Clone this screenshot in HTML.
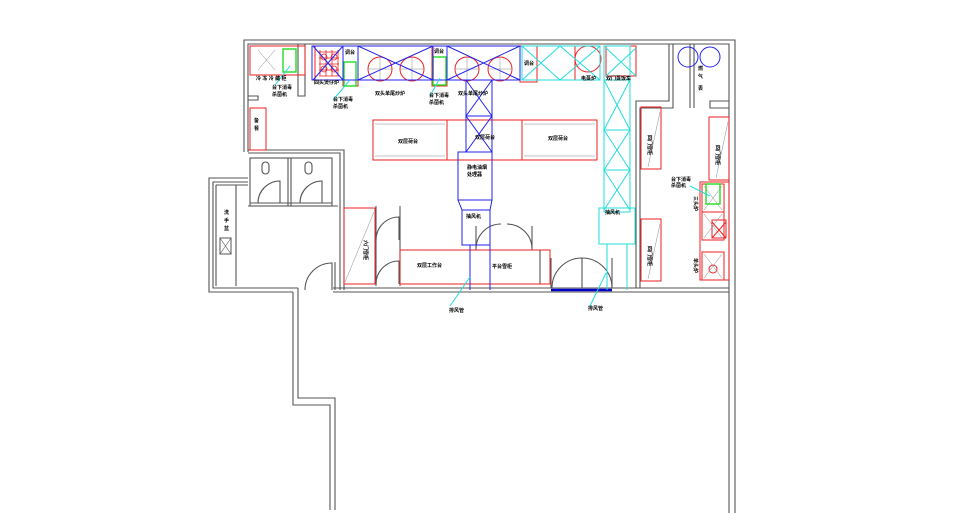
<!DOCTYPE html>
<html><head><meta charset="utf-8"><style>
html,body{margin:0;padding:0;background:#fff;width:960px;height:531px;overflow:hidden}
svg text{font-family:"Liberation Sans","Noto Sans CJK SC",sans-serif;font-weight:bold;font-size:5px;fill:#000}
</style></head><body>
<svg width="960" height="531" viewBox="0 0 960 531" xmlns="http://www.w3.org/2000/svg">
<g fill="none" stroke="#555" stroke-width="1.1">
<polyline points="244,152 244,40 735,40 735,513"/>
<polyline points="248,152 248,44 729,44 729,513"/>
<polyline points="248,150 344,150 344,290"/>
<polyline points="248,153 340,153 340,290"/>
<polyline points="248,178 209,178 209,292 293,292"/>
<polyline points="248,182 213,182 213,288 298,288"/>
<line x1="216" y1="185" x2="216" y2="286"/>
<line x1="236" y1="185" x2="236" y2="286"/>
<line x1="216" y1="185" x2="248" y2="185"/>
<rect x="250" y="158" width="82" height="48"/>
<line x1="250" y1="203" x2="332" y2="203"/>
<line x1="288" y1="158" x2="288" y2="206"/><line x1="291" y1="158" x2="291" y2="206"/>
<line x1="248" y1="206" x2="338" y2="206"/>
<path d="M258,203 A22,22 0 0 1 280,181 L280,203"/>
<path d="M300,203 A22,22 0 0 1 322,181 L322,203"/>
<rect x="262" y="162" width="7" height="12" rx="3.5"/>
<rect x="305" y="162" width="7" height="12" rx="3.5"/>
<path d="M305,290 A27,27 0 0 1 332,263 L332,290"/>
<line x1="335" y1="262" x2="335" y2="290"/>
<line x1="333" y1="288" x2="729" y2="288"/>
<line x1="333" y1="292" x2="729" y2="292"/>
<polyline points="293,292 293,405 330,405 330,510"/>
<polyline points="298,288 298,398 335,398 335,510"/>
<polyline points="669,44 669,101 636,101 636,288"/>
<polyline points="673,44 673,108 640,108 640,288"/>
<polyline points="729,101 710,101 710,108 729,108"/>
<line x1="694" y1="44" x2="694" y2="108"/>
<line x1="690" y1="44" x2="690" y2="108"/>
<polyline points="305,44 305,96 298,96 298,44"/>
<polyline points="248,96 258,96 258,100 248,100"/>
<path d="M376,240 A23,23 0 0 1 399,217 L399,240"/><path d="M376,284 A23,23 0 0 1 399,261 L399,284"/>
<line x1="376" y1="206" x2="376" y2="286"/><line x1="400" y1="206" x2="400" y2="286"/>
<path d="M476,248 A25,25 0 0 1 501,224 M532,248 A25,25 0 0 0 507,224"/>
<line x1="476" y1="226" x2="476" y2="250"/><line x1="532" y1="226" x2="532" y2="250"/>
<line x1="540" y1="250" x2="540" y2="284"/>
<path d="M552,288 A30,30 0 0 1 582,258 L582,288 M612,288 A30,30 0 0 0 582,258"/>
<line x1="551" y1="258" x2="551" y2="288"/><line x1="612" y1="258" x2="612" y2="288"/>
</g>
<line x1="551" y1="290" x2="612" y2="290" stroke="#00c" stroke-width="2.5"/>
<rect x="220" y="238" width="11" height="16" fill="none" stroke="#555"/>
<path d="M220,238 L231,254 M231,238 L220,254" stroke="#555" stroke-width="0.6"/>

<g fill="none" stroke="#e22" stroke-width="1">
<rect x="250" y="46" width="55" height="29"/>
<rect x="250" y="108" width="16" height="42"/>
<rect x="315" y="46" width="28" height="34"/>
<rect x="343" y="46" width="15" height="40"/>
<rect x="358" y="46" width="74" height="34"/>
<rect x="432" y="46" width="15" height="40"/>
<rect x="447" y="46" width="73" height="34"/>
<rect x="520" y="46" width="17" height="36"/>
<rect x="537" y="46" width="38" height="34"/>
<rect x="606" y="46" width="30" height="30"/>
<circle cx="380" cy="69" r="12"/><circle cx="412" cy="69" r="12"/>
<circle cx="467" cy="69" r="12"/><circle cx="500" cy="69" r="12"/>
<circle cx="588" cy="59" r="13"/>
<rect x="373" y="120" width="74" height="40"/><rect x="447" y="120" width="75" height="40"/><rect x="522" y="120" width="75" height="40"/>
<rect x="641" y="107" width="20" height="62"/>
<rect x="641" y="219" width="20" height="62"/>
<rect x="709" y="117" width="20" height="63"/>
<rect x="700" y="182" width="29" height="98"/>
<rect x="702" y="184" width="22" height="28"/><rect x="702" y="212" width="22" height="28"/><rect x="702" y="252" width="22" height="28"/>
<rect x="712" y="220" width="14" height="18"/>
<circle cx="713" cy="269" r="4"/>
<rect x="344" y="208" width="31" height="76"/>
<rect x="400" y="250" width="70" height="34"/>
<rect x="470" y="250" width="80" height="34"/>
</g>
<g stroke="#e22" stroke-width="0.8" fill="none">
<path d="M319,52 h20 M319,58 h20 M319,64 h20 M319,70 h20 M319,76 h20 M320,50 v26 M326,50 v26 M332,50 v26 M338,50 v26"/>
<circle cx="324" cy="57" r="3"/><circle cx="334" cy="57" r="3"/><circle cx="324" cy="69" r="3"/><circle cx="334" cy="69" r="3"/>
</g>
<g stroke="#888" stroke-width="0.5" fill="none">
<line x1="648" y1="167" x2="660" y2="112"/><line x1="648" y1="279" x2="660" y2="224"/>
<line x1="716" y1="178" x2="728" y2="122"/><line x1="345" y1="282" x2="374" y2="212"/>
<path d="M258,50 L275,70 M275,50 L258,70"/>
<path d="M704,186 L722,210 M722,186 L704,210 M704,214 L722,238 M722,214 L704,238 M704,254 L722,278 M722,254 L704,278"/>
<path d="M380,57 v24 M368,69 h24 M412,57 v24 M400,69 h24 M467,57 v24 M455,69 h24 M500,57 v24 M488,69 h24"/>
<line x1="375" y1="124" x2="445" y2="124"/><line x1="375" y1="156" x2="445" y2="156"/>
<line x1="524" y1="124" x2="595" y2="124"/><line x1="524" y1="156" x2="595" y2="156"/>
</g>
<path d="M712,222 L726,238 M726,222 L712,238" stroke="#e22"/>
<g fill="none" stroke="#2d2" stroke-width="1.4">
<rect x="283" y="49" width="13" height="23"/>
<rect x="344" y="62" width="12" height="24"/>
<rect x="433" y="57" width="13" height="28"/>
<rect x="706" y="184" width="14" height="20"/>
</g>
<g fill="none" stroke="#22e" stroke-width="1">
<rect x="312" y="46" width="208" height="34"/>
<path d="M313,46 L343,80 M343,46 L313,80 M358,46 L433,80 M433,46 L358,80 M447,46 L520,80 M520,46 L447,80"/>
<line x1="343" y1="46" x2="343" y2="80"/><line x1="358" y1="46" x2="358" y2="80"/><line x1="433" y1="46" x2="433" y2="80"/><line x1="447" y1="46" x2="447" y2="80"/>
<rect x="466" y="80" width="26" height="72"/>
<path d="M466,80 L492,116 M492,80 L466,116 M466,116 L492,152 M492,116 L466,152 M466,116 H492"/>
<rect x="458" y="152" width="34" height="48"/>
<polyline points="458,200 462,210 462,245 490,245 490,210 492,200"/>
<line x1="462" y1="210" x2="490" y2="210"/>
<line x1="490" y1="245" x2="490" y2="290"/><line x1="470" y1="245" x2="470" y2="290"/>
<circle cx="688" cy="57" r="10"/><circle cx="710" cy="57" r="10"/>
</g>
<g fill="none" stroke="#2dd" stroke-width="1">
<rect x="522" y="46" width="78" height="34"/>
<path d="M522,46 L560,80 M560,46 L522,80 M560,46 L600,80 M600,46 L560,80"/>
<rect x="604" y="46" width="26" height="166"/>
<path d="M606,48 L636,76 M636,48 L606,76 M604,80 L630,130 M630,80 L604,130 M604,130 L630,170 M630,130 L604,170 M604,170 L630,210 M630,170 L604,210"/>
<line x1="604" y1="80" x2="630" y2="80"/><line x1="604" y1="130" x2="630" y2="130"/><line x1="604" y1="170" x2="630" y2="170"/>
<rect x="599" y="208" width="36" height="36"/>
<line x1="607" y1="244" x2="607" y2="290"/><line x1="627" y1="244" x2="627" y2="290"/>
<line x1="290" y1="66" x2="275" y2="85"/><line x1="350" y1="80" x2="333" y2="100"/>
<line x1="440" y1="78" x2="430" y2="96"/><line x1="470" y1="277" x2="450" y2="306"/>
<line x1="606" y1="273" x2="590" y2="306"/><line x1="690" y1="186" x2="710" y2="196"/>
</g>
<text x="256" y="80">冷 冻 冷 藏 柜</text>
<text x="272" y="89">台下消毒</text><text x="272" y="96">杀菌机</text>
<text x="314" y="84">四头煲仔炉</text>
<text x="345" y="54">调台</text>
<text x="333" y="101">台下消毒</text><text x="333" y="108">杀菌机</text>
<text x="375" y="95">双头单尾炒炉</text>
<text x="434" y="53">调台</text>
<text x="429" y="97">台下消毒</text><text x="429" y="104">杀菌机</text>
<text x="458" y="95">双头单尾炒炉</text>
<text x="524" y="65">调台</text>
<text x="581" y="80">电蒸炉</text>
<text x="606" y="80">双门蒸饭车</text>
<text x="698" y="70">燃</text><text x="698" y="78">气</text><text x="698" y="90">表</text>
<text x="254" y="122">备</text><text x="254" y="130">餐</text>
<text x="398" y="143">双层荷台</text>
<text x="475" y="139">双层荷台</text>
<text x="548" y="140">双层荷台</text>
<text x="467" y="169">静电油烟</text><text x="467" y="176">处理器</text>
<text x="466" y="218">抽风机</text>
<text x="605" y="214">抽风机</text>
<text x="224" y="214">洗</text><text x="224" y="222">手</text><text x="224" y="230">盆</text>
<text x="417" y="267">双层工作台</text>
<text x="492" y="268">平台雪柜</text>
<text x="449" y="312">排风管</text>
<text x="588" y="310">排风管</text>
<text x="671" y="181">台下消毒</text><text x="671" y="187">杀菌机</text>
<text transform="translate(364,240) rotate(90)">六门雪柜</text>
<text transform="translate(648,135) rotate(90)">四门雪柜</text>
<text transform="translate(648,246) rotate(90)">四门雪柜</text>
<text transform="translate(716,145) rotate(90)">四门雪柜</text>
<text transform="translate(694,196) rotate(90)">三头炉</text>
<text transform="translate(694,258) rotate(90)">单头炉</text>
</svg>
</body></html>
